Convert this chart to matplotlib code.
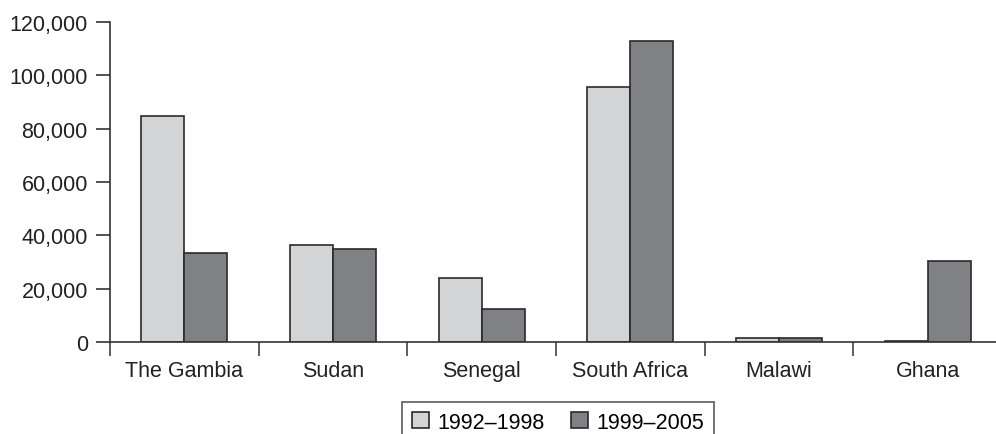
import matplotlib.pyplot as plt
import numpy as np
from matplotlib.ticker import FuncFormatter

plt.rcParams['font.family'] = ['Liberation Sans', 'DejaVu Sans']

countries = ['The Gambia', 'Sudan', 'Senegal', 'South Africa', 'Malawi', 'Ghana']
period1 = [84700, 36500, 24000, 95500, 1500, 300]
period2 = [33500, 35000, 12500, 112700, 1500, 30500]
labels = ['1992\u20131998', '1999\u20132005']

fig = plt.figure(figsize=(9.96, 4.35), dpi=100)
ax = fig.add_axes([110 / 996, 1 - 343 / 435, 1 - 110 / 996 + 0.006, (343 - 23) / 435])

x = np.arange(len(countries))
w = 0.29
ax.bar(x - w / 2, period1, w, color='#d3d4d6', edgecolor='#2a2a2a', linewidth=1.2, label=labels[0])
ax.bar(x + w / 2, period2, w, color='#808185', edgecolor='#2a2a2a', linewidth=1.2, label=labels[1])

ax.set_xlim(-0.5, len(countries) - 0.5)
ax.set_ylim(0, 120000)
ax.set_yticks(np.arange(0, 120001, 20000))
ax.yaxis.set_major_formatter(FuncFormatter(lambda v, p: '{:,.0f}'.format(v)))

ax.set_xticks(x)
ax.set_xticklabels(countries)
ax.set_xticks(np.arange(-0.5, len(countries), 1), minor=True)
ax.tick_params(axis='x', which='major', length=0, pad=13, labelsize=15.5, colors='#222222')
ax.tick_params(axis='x', which='minor', length=10, width=1.1, direction='out', color='#333333')
ax.tick_params(axis='y', length=10, width=1.1, labelsize=15.5, colors='#222222', pad=6)

for s in ['top', 'right']:
    ax.spines[s].set_visible(False)
for s in ['left', 'bottom']:
    ax.spines[s].set_color('#333333')
    ax.spines[s].set_linewidth(1.2)

leg = fig.legend(loc='upper center', bbox_to_anchor=(558 / 996, 1 - 403 / 435), ncol=2,
                 frameon=True, fancybox=False, fontsize=15.5, handlelength=0.8, handleheight=0.8,
                 columnspacing=1.2, handletextpad=0.4, borderpad=0.45, borderaxespad=0)
leg.get_frame().set_edgecolor('#333333')
leg.get_frame().set_linewidth(1.2)

fig.savefig('out.png', dpi=100)
